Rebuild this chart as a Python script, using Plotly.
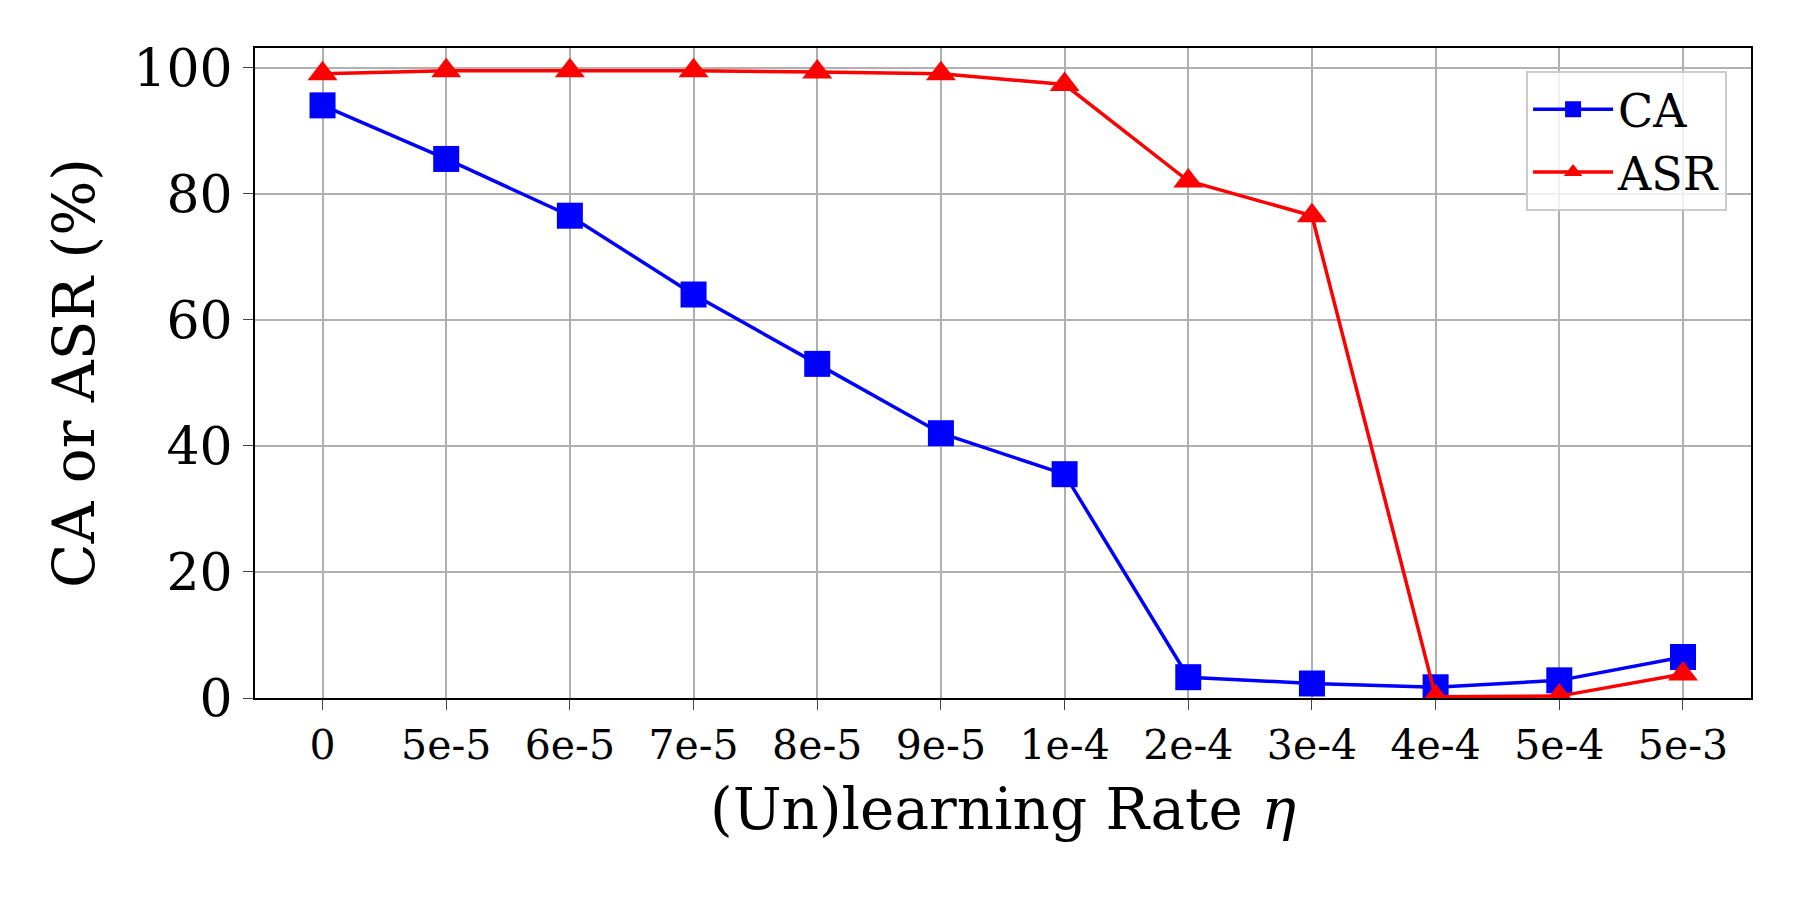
import plotly.graph_objects as go

rates = ["0","5e-5","6e-5","7e-5","8e-5","9e-5","1e-4","2e-4","3e-4","4e-4","5e-4","5e-3"]
ca = [94, 85.5, 76.5, 64, 53, 42, 35.5, 3.3, 2.3, 1.7, 2.8, 6.5]
asr = [99, 99.5, 99.5, 99.5, 99.3, 99, 97.3, 82, 76.5, 0.2, 0.3, 3.8]

idx = list(range(len(rates)))
fig = go.Figure()
fig.add_trace(go.Scatter(x=idx, y=ca, name="CA", mode="lines+markers",
    line=dict(color="blue", width=3.5), marker=dict(symbol="square", size=26, color="blue")))
fig.add_trace(go.Scatter(x=idx, y=asr, name="ASR", mode="lines+markers",
    line=dict(color="red", width=3.5), marker=dict(symbol="triangle-up", size=26, color="red")))

font = "DejaVu Serif"
fig.update_layout(
    width=1800, height=900, paper_bgcolor="white", plot_bgcolor="white",
    margin=dict(l=247, r=57, t=40, b=210),
    font=dict(family=font, color="black"),
    legend=dict(x=0.984, y=0.965, xanchor="right", yanchor="top", itemwidth=80,
                bgcolor="rgba(255,255,255,0.8)", bordercolor="#cccccc", borderwidth=2,
                font=dict(size=46, family=font), tracegroupgap=10),
)
fig.update_xaxes(range=[-0.546, 11.55], tickvals=idx, ticktext=rates,
    tickfont=dict(size=41, family=font), showgrid=True, gridcolor="#b0b0b0", gridwidth=1.5,
    showline=True, linecolor="black", linewidth=2, mirror=True, ticks="outside", ticklen=10,
    title=dict(text="(Un)learning Rate <i>η</i>", font=dict(size=58, family=font), standoff=20),
    zeroline=False)
fig.update_yaxes(range=[0, 103.1], tickvals=[0,20,40,60,80,100],
    tickfont=dict(size=52, family=font), showgrid=True, gridcolor="#b0b0b0", gridwidth=1.5,
    showline=True, linecolor="black", linewidth=2, mirror=True, ticks="outside", ticklen=10,
    title=dict(text="CA or ASR (%)", font=dict(size=58, family=font), standoff=20),
    zeroline=False)
fig.write_html("out.html")
